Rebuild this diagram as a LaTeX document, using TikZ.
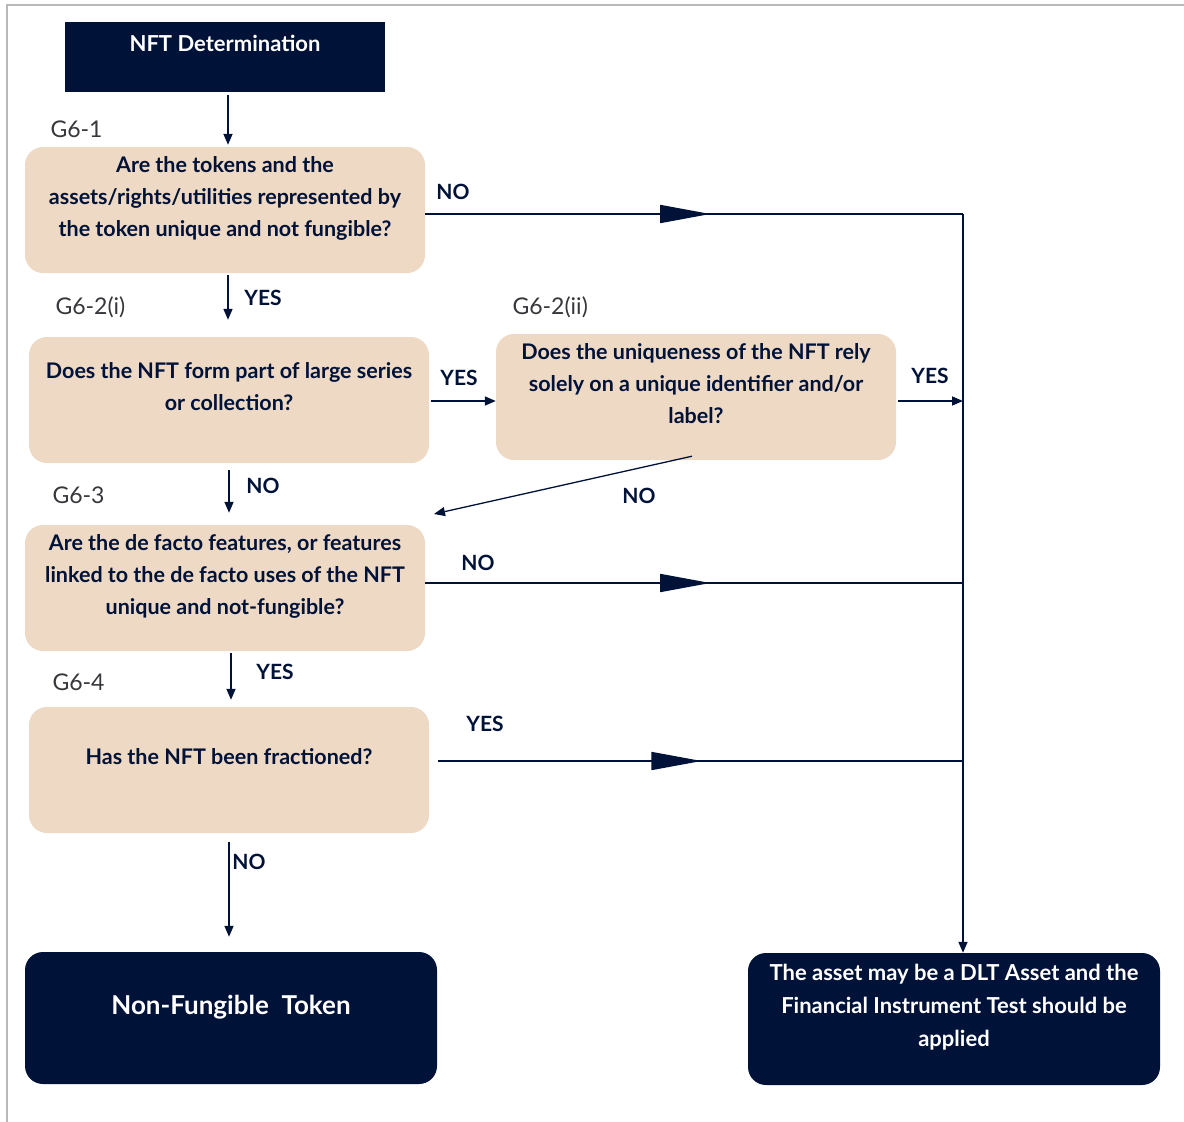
\documentclass[tikz,border=0pt]{standalone}
\usepackage{fontspec}
\setmainfont{Lato}
\usepackage{tikz}
\usetikzlibrary{arrows.meta}
\usetikzlibrary{decorations.markings}
\definecolor{navy}{RGB}{0,18,56}
\definecolor{sand}{RGB}{237,217,196}
\definecolor{labgray}{RGB}{55,55,60}
\tikzset{
    mynodeq/.style = {rectangle, rounded corners=18pt, fill=sand, minimum width=400pt, minimum height=126pt, align=center, font=\bfseries\fontsize{21.5}{32}\selectfont, text=navy, text depth=27pt},
    mynoded/.style = {rectangle, rounded corners=18pt, fill=navy, minimum width=412pt, minimum height=132pt, align=center, font=\bfseries\fontsize{22}{33}\selectfont, text=white, text depth=27pt},
    mytitle/.style = {rectangle, fill=navy, minimum width=320pt, minimum height=70pt, align=center, font=\bfseries\fontsize{22}{24}\selectfont, text=white, text depth=27pt},
    mylabel/.style = {anchor=west, font=\fontsize{23}{24}\selectfont, text=labgray},
    myans/.style = {font=\bfseries\fontsize{21}{22}\selectfont, text=navy},
    edgen/.style = {-{Triangle[length=11pt,width=9pt]}, line width=1.6pt, navy},
    edgep/.style = {-, line width=1.6pt, navy},
    edgem/.style = {-, line width=1.6pt, navy, postaction={decorate}, % big tip half way
      decoration={markings, mark=at position #1 with {\arrow{Triangle[length=50pt,width=18pt]}}}},
}
\begin{document}
\begin{tikzpicture}[x=1pt, y=-1pt]
  \useasboundingbox (0,0) rectangle (1184,1122);
  \draw[gray!55, line width=1.5pt] (7,1122) -- (7,5) -- (1184,5);

  \node[mytitle] (start) at (225,57) {NFT Determination};
  \node[mynodeq] (q1) at (225,210) {Are the tokens and the\\assets/rights/utilities represented by\\the token unique and not fungible?};
  \node[mynodeq] (q2) at (229,400) {Does the NFT form part of large series\\or collection?};
  \node[mynodeq] (q3) at (696,397) {Does the uniqueness of the NFT rely\\solely on a unique identifier and/or\\label?};
  \node[mynodeq] (q4) at (225,588) {Are the de facto features, or features\\linked to the de facto uses of the NFT\\unique and not-fungible?};
  \node[mynodeq] (q5) at (229,770) {Has the NFT been fractioned?};
  \node[mynoded, font=\bfseries\fontsize{26}{28}\selectfont] (nft) at (231,1018) {Non-Fungible\ \ Token};
  \node[mynoded] (dlt) at (954,1019) {The asset may be a DLT Asset and the\\Financial Instrument Test should be\\applied};

  \node[mylabel] at (47,129) {G6-1};
  \node[mylabel] at (52,307) {G6-2(i)};
  \node[mylabel] at (509,307) {G6-2(ii)};
  \node[mylabel] at (49,495) {G6-3};
  \node[mylabel] at (49,682) {G6-4};

  \coordinate (c1) at (963,214);
  \coordinate (c2) at (963,401);
  \coordinate (c3) at (963,583);
  \coordinate (c4) at (963,761);
  \coordinate (d) at (434,514);

  \draw[edgen, shorten <=3pt, shorten >=2pt] (start.south -| 228,0) -- (q1.north -| 228,0);
  \draw[edgem=0.53] (q1.east |- c1) -- (c1);
  \draw[edgen] (c1) -- (c1 |- dlt.north);
  \draw[edgen, shorten <=2pt, shorten >=17pt] (q1.south -| 228,0) -- (q2.north -| 228,0);
  \draw[edgen, shorten <=2pt] (q2.east |- c2) -- (q3.west |- c2);
  \draw[edgen, shorten <=2pt] (q3.east |- c2) -- (c2);
  \draw[edgen, shorten <=7pt, shorten >=12pt] (q2.south -| 229,0) -- (q4.north -| 229,0);
  \draw[edgen, line width=1.3pt] ([xshift=-4pt,yshift=4pt]q3.south) -- (d);
  \draw[edgem=0.53] (q4.east |- c3) -- (c3);
  \draw[edgen, shorten <=2pt, shorten >=7pt] (q4.south -| 231,0) -- (q5.north -| 231,0);
  \draw[edgem=0.51, shorten <=9pt] (q5.east |- c4) -- (c4);
  \draw[edgen, shorten <=9pt, shorten >=15pt] (q5.south -| 229,0) -- (nft.north -| 229,0);

  \node[myans] at (453,192) {NO};
  \node[myans] at (263,298) {YES};
  \node[myans] at (459,378) {YES};
  \node[myans] at (930,376) {YES};
  \node[myans] at (263,486) {NO};
  \node[myans] at (639,496) {NO};
  \node[myans] at (478,563) {NO};
  \node[myans] at (275,672) {YES};
  \node[myans] at (485,724) {YES};
  \node[myans] at (249,862) {NO};
\end{tikzpicture}
\end{document}
